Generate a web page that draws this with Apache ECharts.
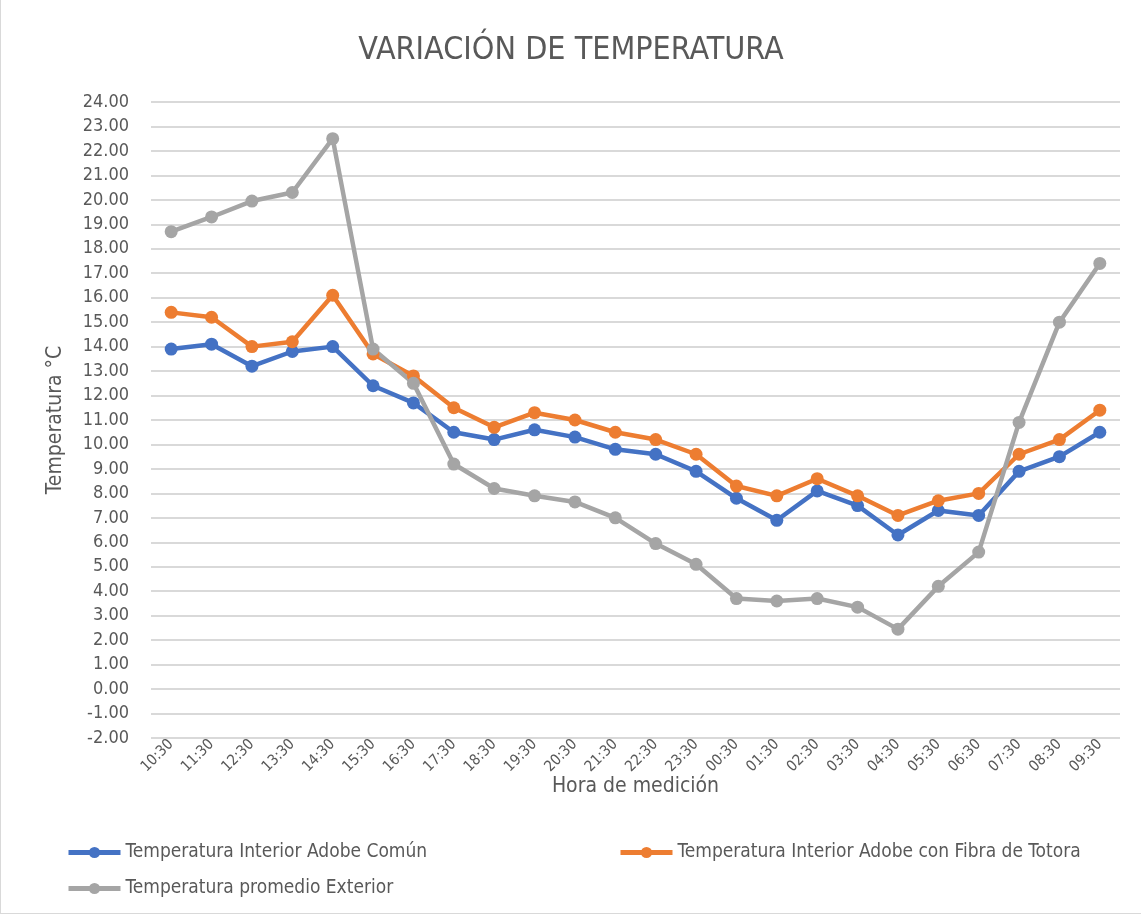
<!DOCTYPE html>
<html>
<head>
<meta charset="utf-8">
<script src="https://cdn.jsdelivr.net/npm/echarts@6/dist/echarts.min.js"></script>
<style>
  html, body { margin: 0; padding: 0; background: #fff; }
  #chart { width: 1141px; height: 914px; box-sizing: border-box; border-left: 1px solid #d9d9d9; border-bottom: 1px solid #d9d9d9; }
</style>
</head>
<body>
<div id="chart"></div>
<script>
const horas = ['10:30', '11:30', '12:30', '13:30', '14:30', '15:30', '16:30', '17:30', '18:30', '19:30', '20:30', '21:30',
  '22:30', '23:30', '00:30', '01:30', '02:30', '03:30', '04:30', '05:30', '06:30', '07:30', '08:30', '09:30']
const adobeComun = [13.9, 14.1, 13.2, 13.8, 14.0, 12.4, 11.7, 10.5, 10.2, 10.6, 10.3, 9.8,
  9.6, 8.9, 7.8, 6.9, 8.1, 7.5, 6.3, 7.3, 7.1, 8.9, 9.5, 10.5]
const adobeTotora = [15.4, 15.2, 14.0, 14.2, 16.1, 13.7, 12.8, 11.5, 10.7, 11.3, 11.0, 10.5,
  10.2, 9.6, 8.3, 7.9, 8.6, 7.9, 7.1, 7.7, 8.0, 9.6, 10.2, 11.4]
const exterior = [18.7, 19.3, 19.95, 20.3, 22.5, 13.9, 12.5, 9.2, 8.2, 7.9, 7.65, 7.0,
  5.95, 5.1, 3.7, 3.6, 3.7, 3.35, 2.45, 4.2, 5.6, 10.9, 15.0, 17.4]

const nombres = ['Temperatura Interior Adobe Común', 'Temperatura Interior Adobe con Fibra de Totora', 'Temperatura promedio Exterior']
const colores = ['#4472C4', '#ED7D31', '#A5A5A5']

const font = '"Liberation Sans Narrow", "DejaVu Sans Condensed", "Roboto", sans-serif'
const txt = '#595959'

const chart = echarts.init(document.getElementById('chart'))

function serie(name, data, color) {
  return {
    name, type: 'line', data,
    symbol: 'circle', symbolSize: 13,
    lineStyle: { width: 4.5, color },
    itemStyle: { color },
  }
}

const legendBase = {
  itemWidth: 52, itemHeight: 14, itemGap: 4,
  lineStyle: { width: 5 },
  textStyle: { fontFamily: font, fontSize: 19, color: txt },
}

chart.setOption({
  animation: false,
  textStyle: { fontFamily: font },
  title: {
    text: 'VARIACIÓN DE TEMPERATURA',
    left: 'center', top: 30,
    textStyle: { fontFamily: font, fontSize: 32, fontWeight: 'normal', color: txt },
  },
  grid: { left: 150, right: 21, top: 102, bottom: 175, containLabel: false },
  legend: [
    { ...legendBase, data: [nombres[0]], left: 60, top: 838 },
    { ...legendBase, data: [nombres[1]], left: 612, top: 838 },
    { ...legendBase, data: [nombres[2]], left: 60, top: 874 },
  ],
  xAxis: {
    type: 'category', data: horas, boundaryGap: true,
    name: 'Hora de medición', nameLocation: 'middle', nameGap: 38, nameMoveOverlap: false,
    nameTextStyle: { fontFamily: font, fontSize: 21, color: txt },
    axisLine: { show: false }, axisTick: { show: false },
    axisLabel: { rotate: 45, fontSize: 15, color: txt, fontFamily: font, margin: 4, interval: 0 },
  },
  yAxis: {
    type: 'value', min: -2, max: 24, interval: 1,
    name: 'Temperatura °C', nameLocation: 'middle', nameGap: 85, nameRotate: 90,
    nameTextStyle: { fontFamily: font, fontSize: 21, color: txt },
    axisLine: { show: false }, axisTick: { show: false },
    axisLabel: { fontSize: 18, color: txt, fontFamily: font, margin: 22, formatter: (v) => v.toFixed(2) },
    splitLine: { lineStyle: { color: '#d9d9d9', width: 2 } },
  },
  series: [
    serie(nombres[0], adobeComun, colores[0]),
    serie(nombres[1], adobeTotora, colores[1]),
    serie(nombres[2], exterior, colores[2]),
  ],
})
</script>
</body>
</html>
